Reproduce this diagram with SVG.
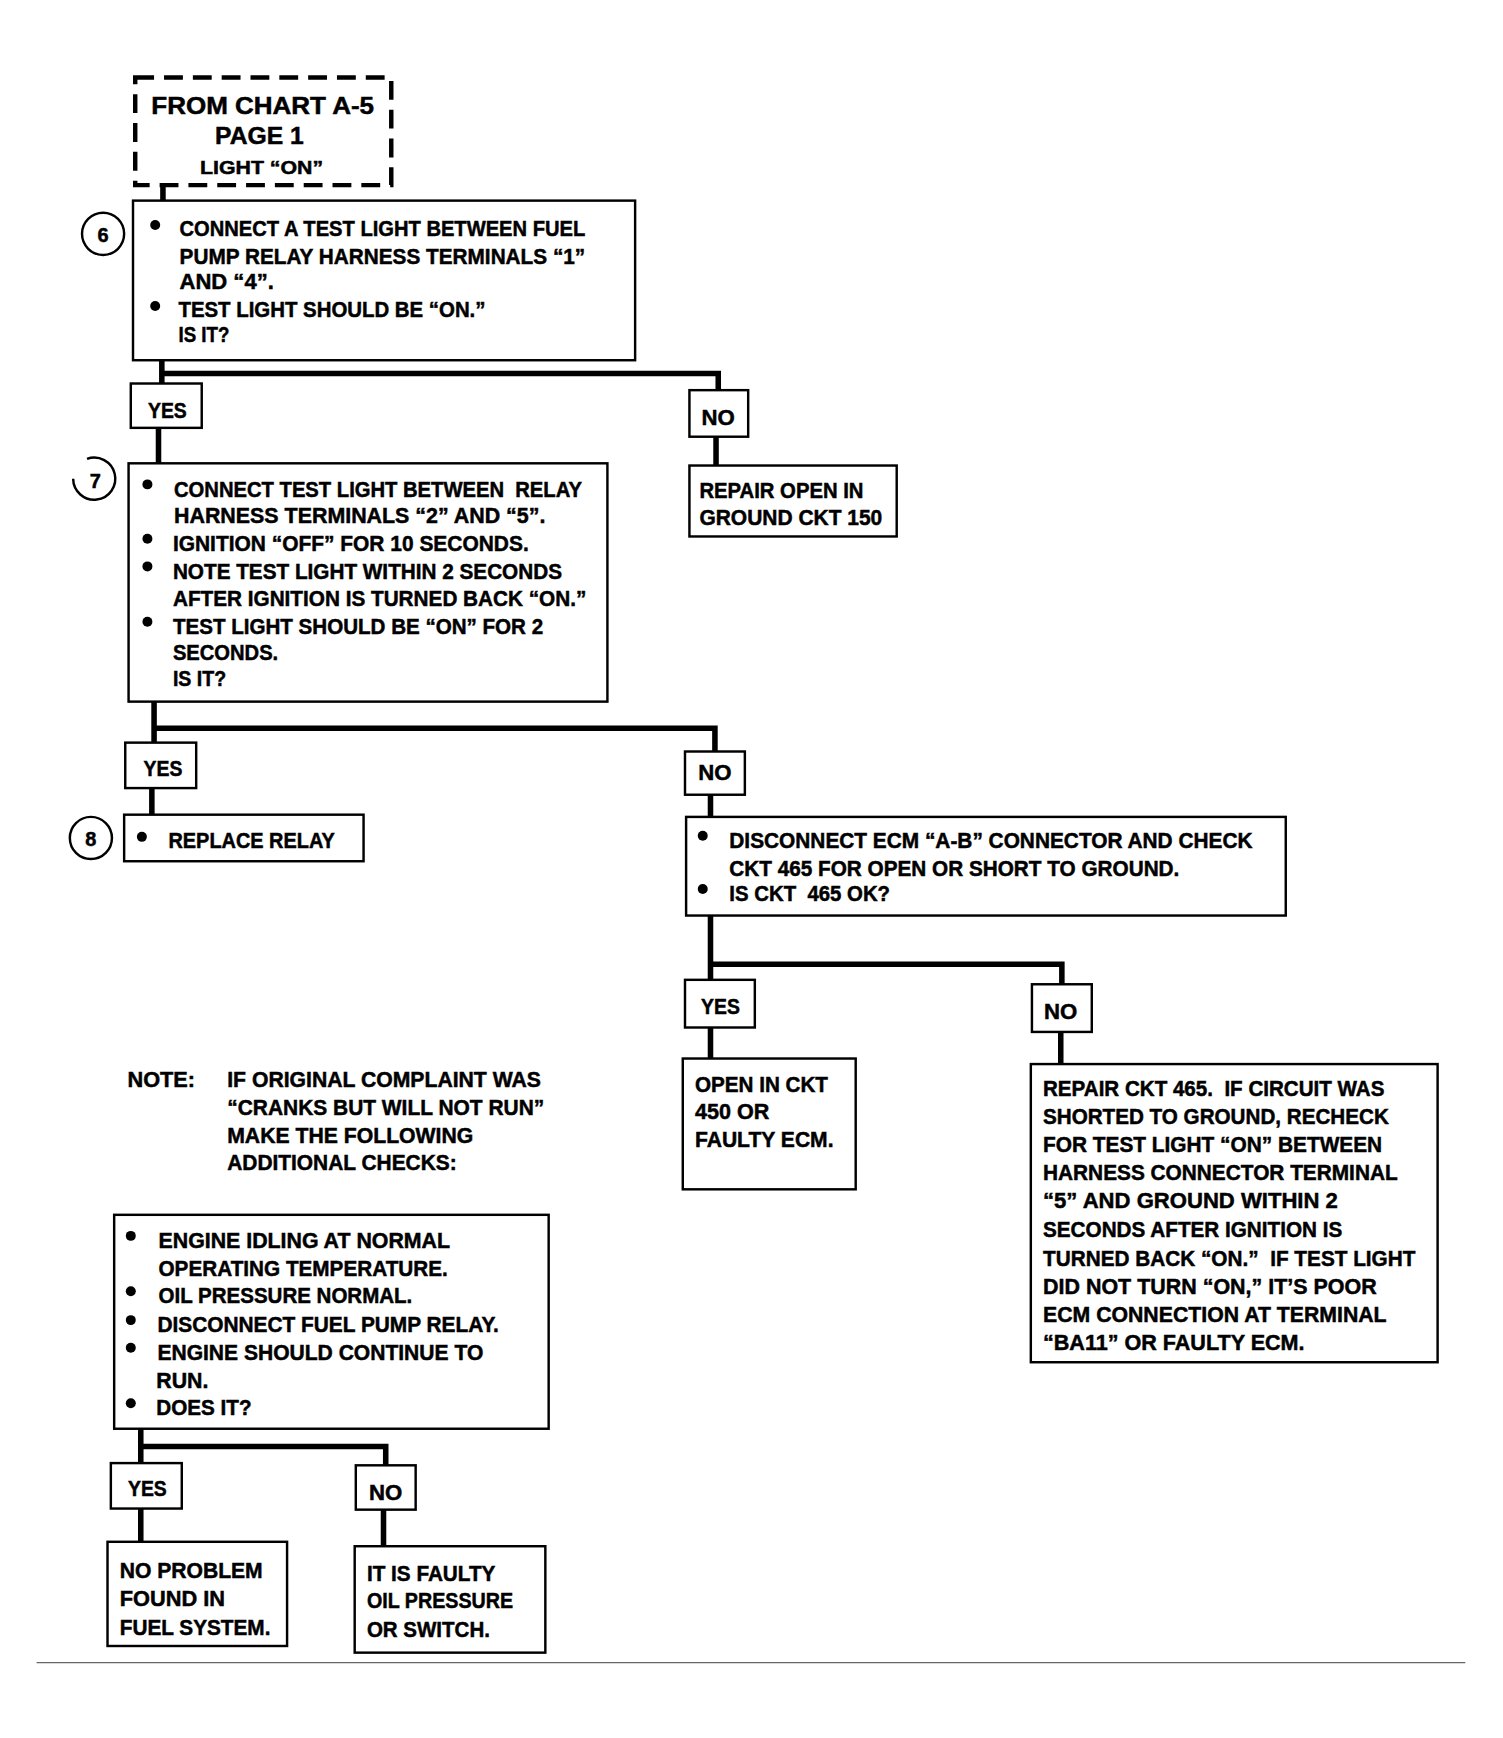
<svg xmlns="http://www.w3.org/2000/svg" width="1503" height="1738" viewBox="0 0 1503 1738">
<style>
.box{fill:#fff;stroke:#000;stroke-width:2.2}
.dash{fill:#fff;stroke:#000;stroke-width:4;stroke-dasharray:17 9}
.con{fill:none;stroke:#000;stroke-width:5;stroke-linejoin:miter;stroke-linecap:butt}
.t{font-family:"Liberation Sans",Arial,sans-serif;font-weight:bold;font-size:20px;fill:#000;stroke:#000;stroke-width:0.45;white-space:pre}
.c{text-anchor:middle}
.num{fill:none;stroke:#000;stroke-width:2.2}
</style>
<rect width="1503" height="1738" fill="#fff"/>
<g transform="scale(1.10841)">
<g id="connectors">
<path class="con" d="M147 167 V181"/>
<path class="con" d="M146 325 V346 M146 337 H648 V352"/>
<path class="con" d="M143 386 V418"/>
<path class="con" d="M646 394 V420"/>
<path class="con" d="M139 633 V670 M139 657 H645 V678"/>
<path class="con" d="M137 711 V735"/>
<path class="con" d="M641 717 V737"/>
<path class="con" d="M641 826 V884 M641 870 H958 V888"/>
<path class="con" d="M641 927 V955"/>
<path class="con" d="M957 931 V960"/>
<path class="con" d="M127 1289 V1320 M127 1305 H348 V1322"/>
<path class="con" d="M127 1361 V1391"/>
<path class="con" d="M346 1362 V1395"/>
</g>
<g id="start">
<rect class="dash" x="122" y="70" width="231" height="97"/>
<text class="t c" x="237" y="103" style="font-size:22px" textLength="201" lengthAdjust="spacingAndGlyphs">FROM CHART A-5</text>
<text class="t c" x="234" y="130" style="font-size:22px" textLength="80" lengthAdjust="spacingAndGlyphs">PAGE 1</text>
<text class="t c" x="236" y="157" style="font-size:17px" textLength="111" lengthAdjust="spacingAndGlyphs">LIGHT “ON”</text>
</g>
<g id="step6">
<circle class="num" cx="93" cy="211" r="19"/>
<text class="t c" x="93" y="218" style="font-size:18px">6</text>
<rect class="box" x="120" y="181" width="453" height="144"/>
<circle cx="140" cy="203" r="4.5"/>
<circle cx="140" cy="276" r="4.5"/>
<text class="t" x="162" y="213" textLength="366" lengthAdjust="spacingAndGlyphs">CONNECT A TEST LIGHT BETWEEN FUEL</text>
<text class="t" x="162" y="238" textLength="366" lengthAdjust="spacingAndGlyphs">PUMP RELAY HARNESS TERMINALS “1”</text>
<text class="t" x="162" y="261" textLength="85" lengthAdjust="spacingAndGlyphs">AND “4”.</text>
<text class="t" x="161" y="286" textLength="277" lengthAdjust="spacingAndGlyphs">TEST LIGHT SHOULD BE “ON.”</text>
<text class="t" x="161" y="309" textLength="46" lengthAdjust="spacingAndGlyphs">IS IT?</text>
</g>
<g id="yes1">
<rect class="box" x="118" y="346" width="64" height="40"/>
<text class="t c" x="151" y="377" textLength="35" lengthAdjust="spacingAndGlyphs">YES</text>
</g>
<g id="no1">
<rect class="box" x="622" y="352" width="53" height="42"/>
<text class="t c" x="648" y="383" textLength="30" lengthAdjust="spacingAndGlyphs">NO</text>
</g>
<g id="repair150">
<rect class="box" x="622" y="420" width="187" height="64"/>
<text class="t" x="631" y="449" textLength="148" lengthAdjust="spacingAndGlyphs">REPAIR OPEN IN</text>
<text class="t" x="631" y="474" textLength="165" lengthAdjust="spacingAndGlyphs">GROUND CKT 150</text>
</g>
<g id="step7">
<path class="num" d="M66 432 A19 19 0 1 0 78.5 414"/>
<text class="t c" x="86" y="440" style="font-size:18px">7</text>
<rect class="box" x="116" y="418" width="432" height="215"/>
<circle cx="133" cy="437" r="4.5"/>
<circle cx="133" cy="486" r="4.5"/>
<circle cx="133" cy="511" r="4.5"/>
<circle cx="133" cy="561" r="4.5"/>
<text class="t" x="157" y="448" textLength="368" lengthAdjust="spacingAndGlyphs">CONNECT TEST LIGHT BETWEEN  RELAY</text>
<text class="t" x="157" y="472" textLength="335" lengthAdjust="spacingAndGlyphs">HARNESS TERMINALS “2” AND “5”.</text>
<text class="t" x="156" y="497" textLength="321" lengthAdjust="spacingAndGlyphs">IGNITION “OFF” FOR 10 SECONDS.</text>
<text class="t" x="156" y="522" textLength="351" lengthAdjust="spacingAndGlyphs">NOTE TEST LIGHT WITHIN 2 SECONDS</text>
<text class="t" x="156" y="547" textLength="373" lengthAdjust="spacingAndGlyphs">AFTER IGNITION IS TURNED BACK “ON.”</text>
<text class="t" x="156" y="572" textLength="334" lengthAdjust="spacingAndGlyphs">TEST LIGHT SHOULD BE “ON” FOR 2</text>
<text class="t" x="156" y="595" textLength="95" lengthAdjust="spacingAndGlyphs">SECONDS.</text>
<text class="t" x="156" y="619" textLength="48" lengthAdjust="spacingAndGlyphs">IS IT?</text>
</g>
<g id="yes2">
<rect class="box" x="113" y="670" width="64" height="41"/>
<text class="t c" x="147" y="700" textLength="35" lengthAdjust="spacingAndGlyphs">YES</text>
</g>
<g id="step8">
<circle class="num" cx="82" cy="756" r="19"/>
<text class="t c" x="82" y="763" style="font-size:18px">8</text>
<rect class="box" x="112" y="735" width="216" height="42"/>
<circle cx="128" cy="755" r="4.5"/>
<text class="t" x="152" y="765" textLength="150" lengthAdjust="spacingAndGlyphs">REPLACE RELAY</text>
</g>
<g id="no2">
<rect class="box" x="618" y="678" width="54" height="39"/>
<text class="t c" x="645" y="704" textLength="30" lengthAdjust="spacingAndGlyphs">NO</text>
</g>
<g id="ecm">
<rect class="box" x="619" y="737" width="541" height="89"/>
<circle cx="634" cy="754" r="4.5"/>
<circle cx="634" cy="802" r="4.5"/>
<text class="t" x="658" y="765" textLength="472" lengthAdjust="spacingAndGlyphs">DISCONNECT ECM “A-B” CONNECTOR AND CHECK</text>
<text class="t" x="658" y="790" textLength="406" lengthAdjust="spacingAndGlyphs">CKT 465 FOR OPEN OR SHORT TO GROUND.</text>
<text class="t" x="658" y="813" textLength="145" lengthAdjust="spacingAndGlyphs">IS CKT  465 OK?</text>
</g>
<g id="yes3">
<rect class="box" x="618" y="884" width="63" height="43"/>
<text class="t c" x="650" y="915" textLength="35" lengthAdjust="spacingAndGlyphs">YES</text>
</g>
<g id="open450">
<rect class="box" x="616" y="955" width="156" height="118"/>
<text class="t" x="627" y="985" textLength="120" lengthAdjust="spacingAndGlyphs">OPEN IN CKT</text>
<text class="t" x="627" y="1010" textLength="67" lengthAdjust="spacingAndGlyphs">450 OR</text>
<text class="t" x="627" y="1035" textLength="125" lengthAdjust="spacingAndGlyphs">FAULTY ECM.</text>
</g>
<g id="no3">
<rect class="box" x="931" y="888" width="54" height="43"/>
<text class="t c" x="957" y="919" textLength="30" lengthAdjust="spacingAndGlyphs">NO</text>
</g>
<g id="repair465">
<rect class="box" x="930" y="960" width="367" height="269"/>
<text class="t" x="941" y="989" textLength="308" lengthAdjust="spacingAndGlyphs">REPAIR CKT 465.  IF CIRCUIT WAS</text>
<text class="t" x="941" y="1014" textLength="312" lengthAdjust="spacingAndGlyphs">SHORTED TO GROUND, RECHECK</text>
<text class="t" x="941" y="1039" textLength="306" lengthAdjust="spacingAndGlyphs">FOR TEST LIGHT “ON” BETWEEN</text>
<text class="t" x="941" y="1065" textLength="320" lengthAdjust="spacingAndGlyphs">HARNESS CONNECTOR TERMINAL</text>
<text class="t" x="941" y="1090" textLength="266" lengthAdjust="spacingAndGlyphs">“5” AND GROUND WITHIN 2</text>
<text class="t" x="941" y="1116" textLength="270" lengthAdjust="spacingAndGlyphs">SECONDS AFTER IGNITION IS</text>
<text class="t" x="941" y="1142" textLength="336" lengthAdjust="spacingAndGlyphs">TURNED BACK “ON.”  IF TEST LIGHT</text>
<text class="t" x="941" y="1167" textLength="301" lengthAdjust="spacingAndGlyphs">DID NOT TURN “ON,” IT’S POOR</text>
<text class="t" x="941" y="1193" textLength="310" lengthAdjust="spacingAndGlyphs">ECM CONNECTION AT TERMINAL</text>
<text class="t" x="941" y="1218" textLength="236" lengthAdjust="spacingAndGlyphs">“BA11” OR FAULTY ECM.</text>
</g>
<g id="note">
<text class="t" x="115" y="981" textLength="61" lengthAdjust="spacingAndGlyphs">NOTE:</text>
<text class="t" x="205" y="981" textLength="283" lengthAdjust="spacingAndGlyphs">IF ORIGINAL COMPLAINT WAS</text>
<text class="t" x="205" y="1006" textLength="286" lengthAdjust="spacingAndGlyphs">“CRANKS BUT WILL NOT RUN”</text>
<text class="t" x="205" y="1031" textLength="222" lengthAdjust="spacingAndGlyphs">MAKE THE FOLLOWING</text>
<text class="t" x="205" y="1056" textLength="207" lengthAdjust="spacingAndGlyphs">ADDITIONAL CHECKS:</text>
</g>
<g id="engine">
<rect class="box" x="103" y="1096" width="392" height="193"/>
<circle cx="118" cy="1115" r="4.5"/>
<circle cx="118" cy="1165" r="4.5"/>
<circle cx="118" cy="1191" r="4.5"/>
<circle cx="118" cy="1216" r="4.5"/>
<circle cx="118" cy="1266" r="4.5"/>
<text class="t" x="143" y="1126" textLength="263" lengthAdjust="spacingAndGlyphs">ENGINE IDLING AT NORMAL</text>
<text class="t" x="143" y="1151" textLength="261" lengthAdjust="spacingAndGlyphs">OPERATING TEMPERATURE.</text>
<text class="t" x="143" y="1176" textLength="229" lengthAdjust="spacingAndGlyphs">OIL PRESSURE NORMAL.</text>
<text class="t" x="142" y="1202" textLength="308" lengthAdjust="spacingAndGlyphs">DISCONNECT FUEL PUMP RELAY.</text>
<text class="t" x="142" y="1227" textLength="294" lengthAdjust="spacingAndGlyphs">ENGINE SHOULD CONTINUE TO</text>
<text class="t" x="141" y="1252" textLength="47" lengthAdjust="spacingAndGlyphs">RUN.</text>
<text class="t" x="141" y="1277" textLength="86" lengthAdjust="spacingAndGlyphs">DOES IT?</text>
</g>
<g id="yes4">
<rect class="box" x="100" y="1320" width="64" height="41"/>
<text class="t c" x="133" y="1350" textLength="35" lengthAdjust="spacingAndGlyphs">YES</text>
</g>
<g id="noproblem">
<rect class="box" x="97" y="1391" width="162" height="94"/>
<text class="t" x="108" y="1424" textLength="129" lengthAdjust="spacingAndGlyphs">NO PROBLEM</text>
<text class="t" x="108" y="1449" textLength="95" lengthAdjust="spacingAndGlyphs">FOUND IN</text>
<text class="t" x="108" y="1475" textLength="136" lengthAdjust="spacingAndGlyphs">FUEL SYSTEM.</text>
</g>
<g id="no4">
<rect class="box" x="321" y="1322" width="54" height="40"/>
<text class="t c" x="348" y="1353" textLength="30" lengthAdjust="spacingAndGlyphs">NO</text>
</g>
<g id="faulty">
<rect class="box" x="320" y="1395" width="172" height="96"/>
<text class="t" x="331" y="1426" textLength="116" lengthAdjust="spacingAndGlyphs">IT IS FAULTY</text>
<text class="t" x="331" y="1451" textLength="132" lengthAdjust="spacingAndGlyphs">OIL PRESSURE</text>
<text class="t" x="331" y="1477" textLength="111" lengthAdjust="spacingAndGlyphs">OR SWITCH.</text>
</g>
<path d="M33 1500 H1322" stroke="#666" stroke-width="1.2" fill="none"/>
</g>
</svg>
